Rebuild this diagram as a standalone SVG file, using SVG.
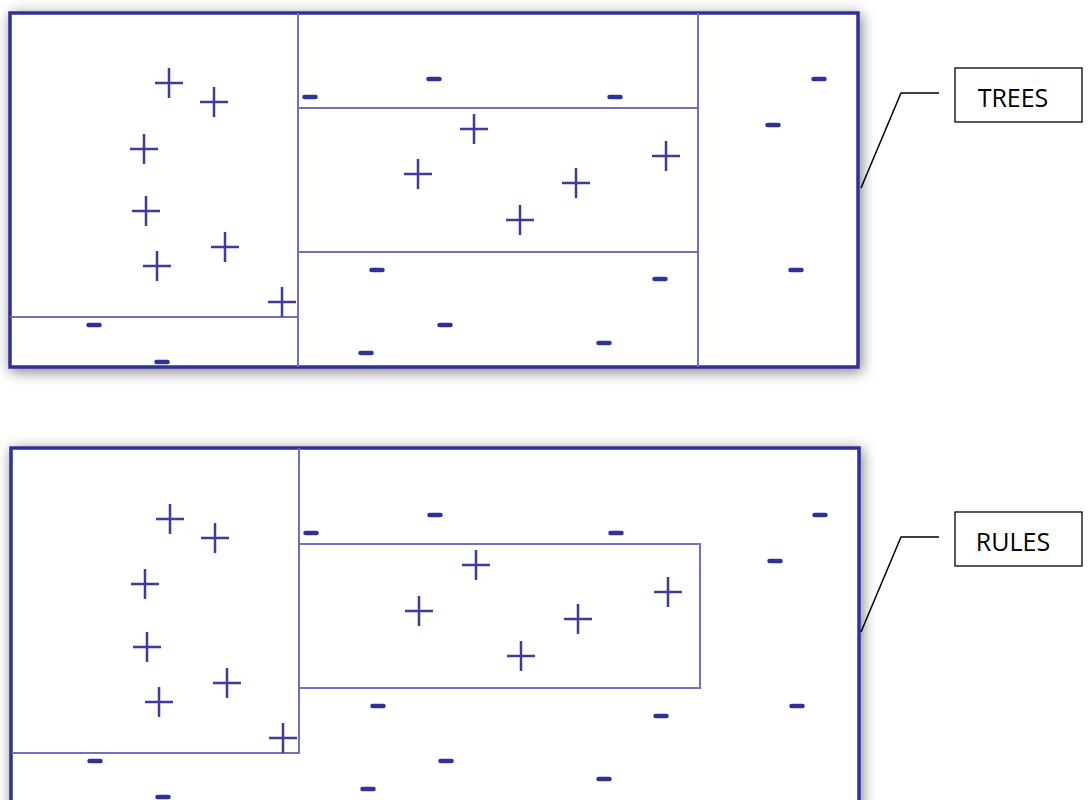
<svg xmlns="http://www.w3.org/2000/svg" xmlns:xlink="http://www.w3.org/1999/xlink" width="1088" height="800" viewBox="0 0 1088 800">
<style>
.frame{fill:#fff;stroke:#2f3196;stroke-width:3.5}
.split{fill:none;stroke:#6f72b8;stroke-width:2}
.plus{stroke:#3a3d9c;stroke-width:2.5;fill:none}
.minus{stroke:#2f3196;stroke-width:4.5;stroke-linecap:round}
.label{fill:#fff;stroke:#000;stroke-width:1.3}
.ltext{font-family:"Open Sans","Liberation Sans",sans-serif;font-size:25px;fill:#000;text-anchor:middle}
.lead{fill:none;stroke:#000;stroke-width:1.5}
</style>
<defs>
<filter id="sh" x="-8%" y="-15%" width="116%" height="130%">
<feDropShadow dx="2" dy="3" stdDeviation="7" flood-color="#000" flood-opacity="0.5"/>
</filter>
<g id="p"><path class="plus" d="M-14 0H14M0 -15V15"/></g>
<g id="m"><path class="minus" d="M-5.5 0H5.5"/></g>
</defs>
<rect width="1088" height="800" fill="#fff"/>

<g id="trees-panel">
<rect class="frame" x="10" y="13" width="848" height="354" filter="url(#sh)"/>
<path class="split" d="M298 13V367M698 13V367M298 108H698M298 252H698M10 317H298"/>
<use xlink:href="#p" x="169" y="83"/><use xlink:href="#p" x="214" y="102"/>
<use xlink:href="#p" x="144" y="149"/><use xlink:href="#p" x="146" y="211"/>
<use xlink:href="#p" x="225" y="247"/><use xlink:href="#p" x="157" y="266"/>
<use xlink:href="#p" x="282" y="302"/>
<use xlink:href="#p" x="474" y="129"/><use xlink:href="#p" x="418" y="174"/>
<use xlink:href="#p" x="666" y="156"/><use xlink:href="#p" x="576" y="183"/>
<use xlink:href="#p" x="520" y="220"/>
<use xlink:href="#m" x="94" y="325"/><use xlink:href="#m" x="162" y="362"/>
<use xlink:href="#m" x="310" y="97"/><use xlink:href="#m" x="434" y="79"/>
<use xlink:href="#m" x="615" y="97"/>
<use xlink:href="#m" x="377" y="270"/><use xlink:href="#m" x="660" y="279"/>
<use xlink:href="#m" x="445" y="325"/><use xlink:href="#m" x="366" y="353"/>
<use xlink:href="#m" x="604" y="343"/>
<use xlink:href="#m" x="819" y="79"/><use xlink:href="#m" x="773" y="125"/>
<use xlink:href="#m" x="796" y="270"/>
</g>

<g id="rules-panel">
<rect class="frame" x="11" y="448" width="848" height="364" filter="url(#sh)"/>
<path class="split" d="M299 448V753H12M299 544H700V688H299"/>
<use xlink:href="#p" x="170" y="519"/><use xlink:href="#p" x="215" y="538"/>
<use xlink:href="#p" x="145" y="584"/><use xlink:href="#p" x="147" y="647"/>
<use xlink:href="#p" x="227" y="683"/><use xlink:href="#p" x="159" y="702"/>
<use xlink:href="#p" x="283" y="738"/>
<use xlink:href="#p" x="476" y="565"/><use xlink:href="#p" x="419" y="611"/>
<use xlink:href="#p" x="668" y="592"/><use xlink:href="#p" x="578" y="619"/>
<use xlink:href="#p" x="521" y="656"/>
<use xlink:href="#m" x="95" y="761"/><use xlink:href="#m" x="163" y="797"/>
<use xlink:href="#m" x="311" y="533"/><use xlink:href="#m" x="435" y="515"/>
<use xlink:href="#m" x="616" y="533"/>
<use xlink:href="#m" x="378" y="706"/><use xlink:href="#m" x="661" y="716"/>
<use xlink:href="#m" x="446" y="761"/><use xlink:href="#m" x="368" y="789"/>
<use xlink:href="#m" x="604" y="779"/>
<use xlink:href="#m" x="820" y="515"/><use xlink:href="#m" x="775" y="561"/>
<use xlink:href="#m" x="797" y="706"/>
</g>

<g id="connectors">
<path class="lead" d="M861 188L901 93H939"/>
<path class="lead" d="M861 632L901 537H939"/>
</g>

<g id="label-trees">
<rect class="label" x="955" y="68" width="127" height="54"/>
<text class="ltext" x="1013" y="107">TREES</text>
</g>
<g id="label-rules">
<rect class="label" x="955" y="512" width="127" height="54"/>
<text class="ltext" x="1013" y="551">RULES</text>
</g>
</svg>
